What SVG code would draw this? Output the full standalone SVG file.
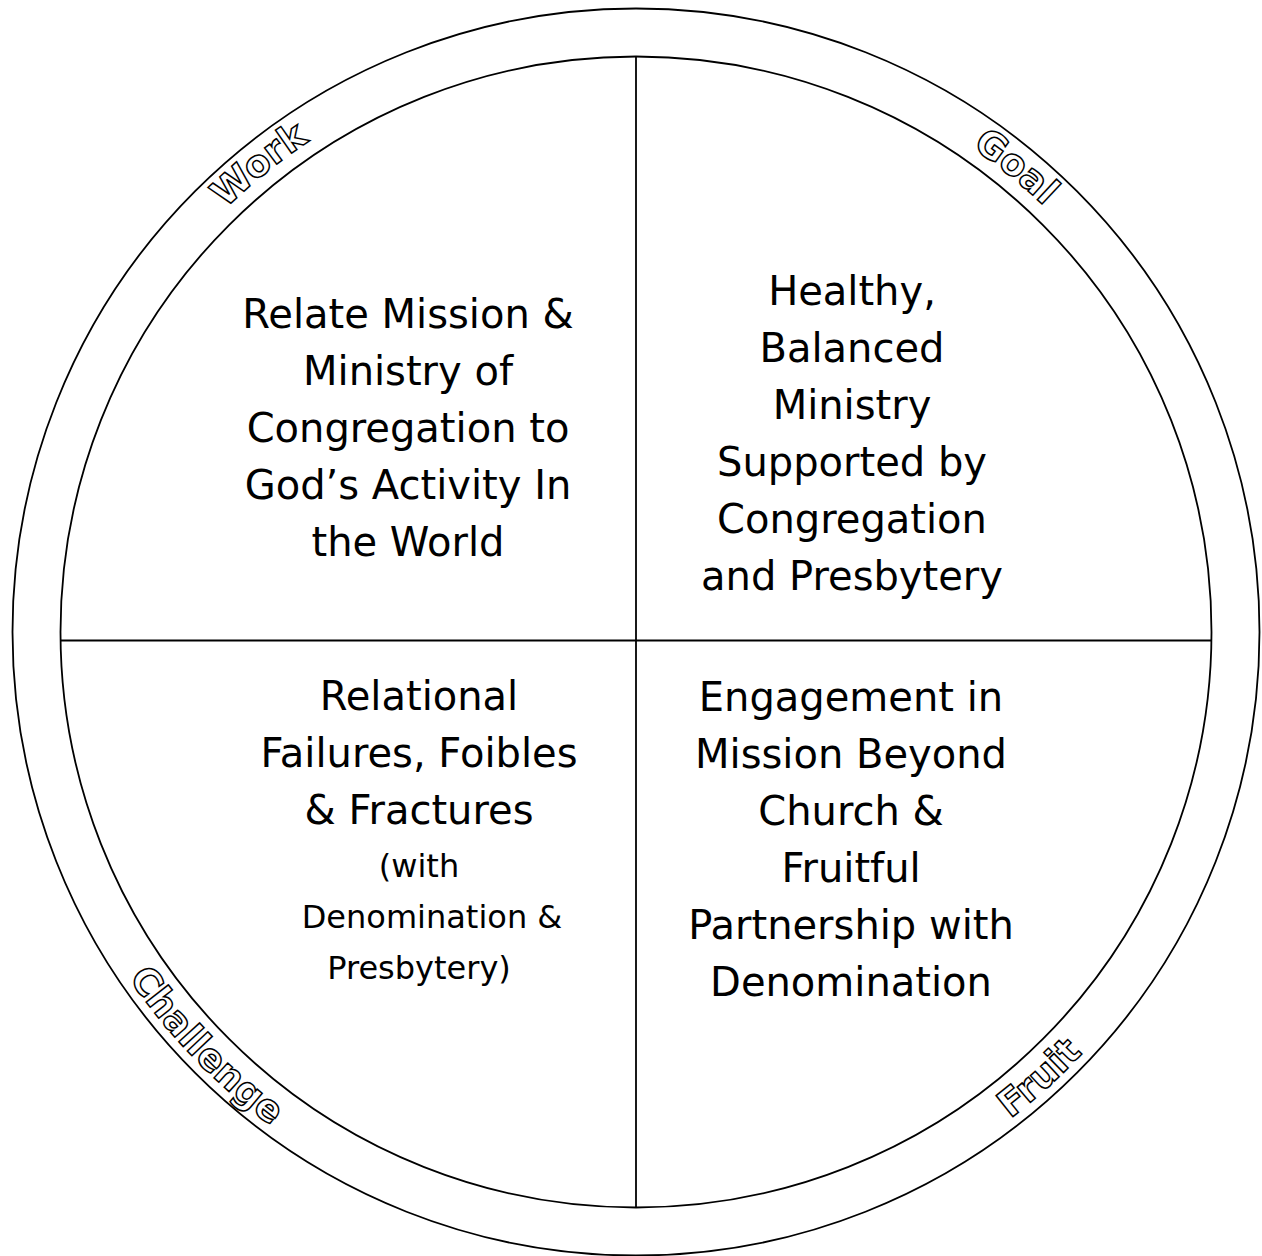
<svg xmlns="http://www.w3.org/2000/svg" width="1262" height="1256" viewBox="0 0 1262 1256">
  <style>
    .ring { fill: none; stroke: #000; stroke-width: 1.8; }
    .div { stroke: #000; stroke-width: 1.8; }
    .main { font-family: "DejaVu Sans", "Liberation Sans", sans-serif; font-size: 40px; fill: #000; text-anchor: middle; }
    .small { font-size: 32px; }
    .arc { font-family: "DejaVu Sans", "Liberation Sans", sans-serif; font-size: 37px; font-weight: bold; fill: #fff; stroke: #000; stroke-width: 1.5; text-anchor: middle; }
  </style>
  <defs>
    <path id="topArc" d="M 46,632 A 590 590 0 0 1 1226,632"/>
    <path id="botArc" d="M 22,632 A 614 614 0 0 0 1250,632"/>
  </defs>
  <rect x="0" y="0" width="1262" height="1256" fill="#fff"/>
  <g id="rings">
    <circle class="ring" cx="636" cy="632" r="623.5"/>
    <circle class="ring" cx="636" cy="632" r="575.5"/>
  </g>
  <g id="connectors">
    <line class="div" x1="636" y1="56.5" x2="636" y2="1207.5"/>
    <line class="div" x1="60.5" y1="640.5" x2="1211.5" y2="640.5"/>
  </g>
  <g id="labels">
    <text class="arc"><textPath href="#topArc" startOffset="28.4%">Work</textPath></text>
    <text class="arc"><textPath href="#topArc" startOffset="71.8%">Goal</textPath></text>
    <text class="arc"><textPath href="#botArc" startOffset="24.4%">Challenge</textPath></text>
    <text class="arc"><textPath href="#botArc" startOffset="73.4%">Fruit</textPath></text>
  </g>
  <g id="work">
    <text class="main" x="408" y="328">Relate Mission &amp;</text>
    <text class="main" x="408" y="385">Ministry of</text>
    <text class="main" x="408" y="442">Congregation to</text>
    <text class="main" x="408" y="499">God’s Activity In</text>
    <text class="main" x="408" y="556">the World</text>
  </g>
  <g id="goal">
    <text class="main" x="852" y="305">Healthy,</text>
    <text class="main" x="852" y="362">Balanced</text>
    <text class="main" x="852" y="419">Ministry</text>
    <text class="main" x="852" y="476">Supported by</text>
    <text class="main" x="852" y="533">Congregation</text>
    <text class="main" x="852" y="590">and Presbytery</text>
  </g>
  <g id="challenge">
    <text class="main" x="419" y="710">Relational</text>
    <text class="main" x="419" y="767">Failures, Foibles</text>
    <text class="main" x="419" y="824">&amp; Fractures</text>
    <text class="main small" x="419" y="877">(with</text>
    <text class="main small" x="432" y="928">Denomination &amp;</text>
    <text class="main small" x="419" y="979">Presbytery)</text>
  </g>
  <g id="fruit">
    <text class="main" x="851" y="711">Engagement in</text>
    <text class="main" x="851" y="768">Mission Beyond</text>
    <text class="main" x="851" y="825">Church &amp;</text>
    <text class="main" x="851" y="882">Fruitful</text>
    <text class="main" x="851" y="939">Partnership with</text>
    <text class="main" x="851" y="996">Denomination</text>
  </g>
</svg>
